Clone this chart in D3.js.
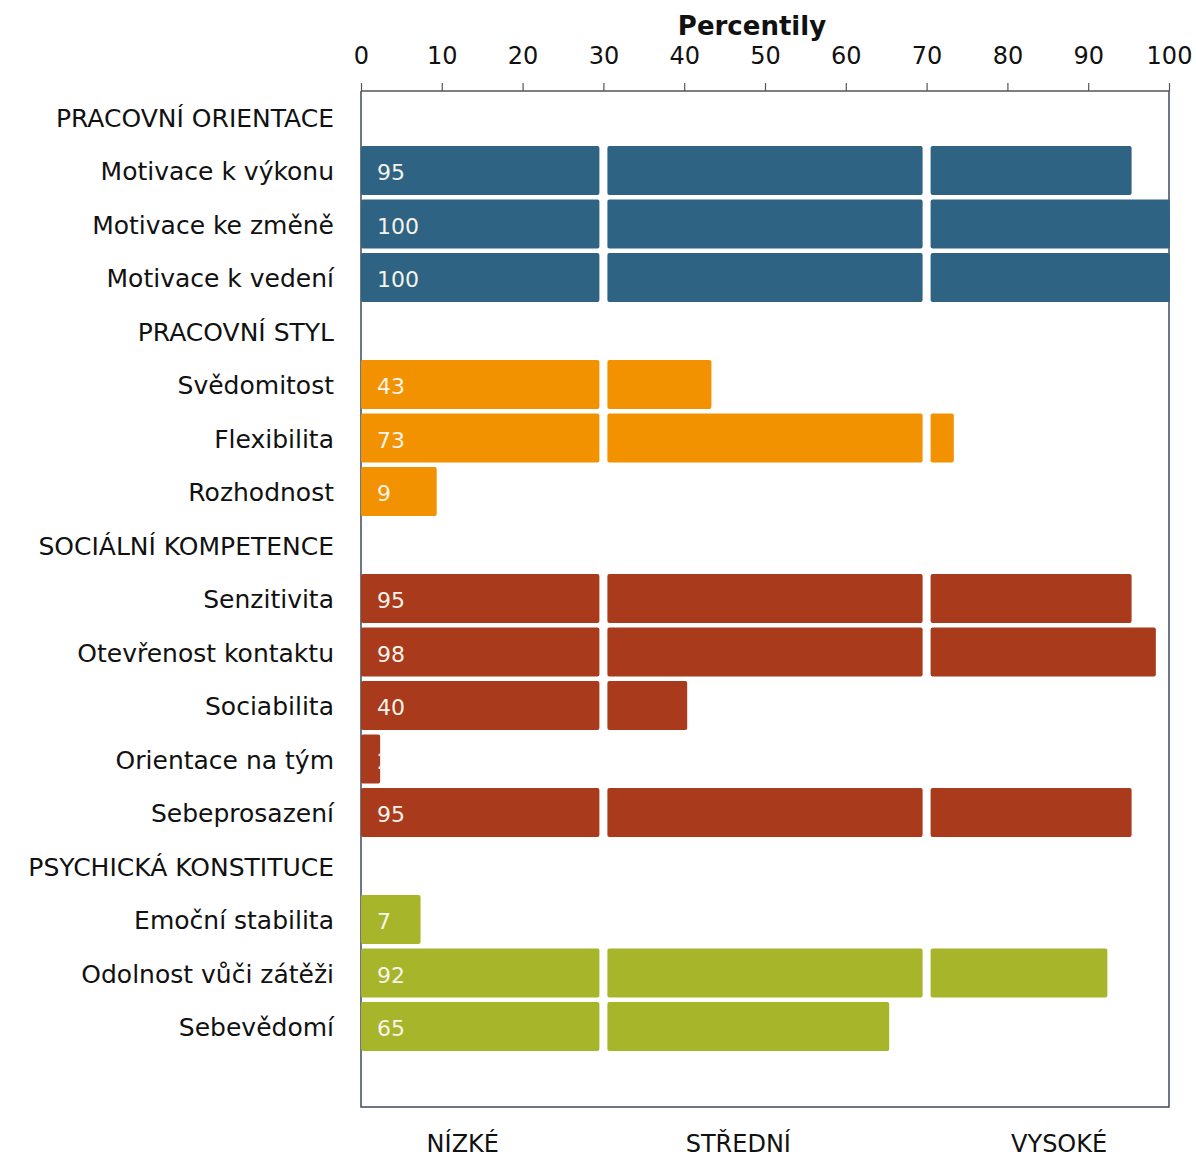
<!DOCTYPE html>
<html><head><meta charset="utf-8">
<script src="https://cdn.jsdelivr.net/npm/d3@7"></script>
<style>
html,body{margin:0;padding:0;background:#fff;}
svg{display:block;}
</style></head>
<body>
<svg id="chart" width="1196" height="1158"></svg>
<script>
// ---- data ----
const rowLabels = [
  "PRACOVNÍ ORIENTACE","Motivace k výkonu","Motivace ke změně","Motivace k vedení",
  "PRACOVNÍ STYL","Svědomitost","Flexibilita","Rozhodnost",
  "SOCIÁLNÍ KOMPETENCE","Senzitivita","Otevřenost kontaktu","Sociabilita","Orientace na tým","Sebeprosazení",
  "PSYCHICKÁ KONSTITUCE","Emoční stabilita","Odolnost vůči zátěži","Sebevědomí"
];
const rowValues = [null,95,100,100, null,43,73,9, null,95,98,40,2,95, null,7,92,65];
const rowGroup  = [0,0,0,0, 1,1,1,1, 2,2,2,2,2,2, 3,3,3,3];
const groupColors = ["#2e6384","#f39200","#a93a1b","#a7b52a"];
const xTicks = [0,10,20,30,40,50,60,70,80,90,100];
const zoneBreaks = [0,30,70,100];
const zoneLabels = ["NÍZKÉ","STŘEDNÍ","VYSOKÉ"];
const zoneLabelPos = [12.6,46.7,86.4];
const axisTitle = "Percentily";

// ---- layout ----
const svg = d3.select("#chart");
const left = 361, right = 1169, axisY = 91, frameBottom = 1107;
const x = d3.scaleLinear().domain([0,100]).range([left,right]);
const y = d3.scaleBand().domain(d3.range(rowLabels.length))
  .range([90.25, 90.25 + 53.5*rowLabels.length]).paddingInner(0.085).paddingOuter(0.0425);

const FONT = "'DejaVu Sans', Verdana, sans-serif";

// title
svg.append("text").attr("x", 752).attr("y", 35).attr("text-anchor","middle")
  .attr("font-family",FONT).attr("font-weight","bold").attr("font-size",26).attr("fill","#111")
  .text(axisTitle);

// top axis
const axis = d3.axisTop(x).tickValues(xTicks).tickSize(8).tickPadding(19).tickFormat(d3.format("d"));
const gAxis = svg.append("g").attr("transform",`translate(0,${axisY})`).call(axis);
gAxis.select(".domain").attr("stroke","#555").attr("stroke-width",1.5).attr("d",`M${left},0H${right}`);
gAxis.selectAll(".tick line").attr("stroke","#555").attr("stroke-width",1.2);
gAxis.selectAll(".tick text").attr("font-family",FONT).attr("font-size",24).attr("fill","#111");

// frame
svg.append("path").attr("d",`M${left},${axisY}V${frameBottom}H${right}V${axisY}`)
  .attr("fill","none").attr("stroke","#3f4a5c").attr("stroke-width",1.5);

// row labels
svg.append("g").selectAll("text").data(rowLabels).join("text")
  .attr("x",334).attr("y",(d,i)=>y(i)+y.bandwidth()/2).attr("dy","0.38em")
  .attr("text-anchor","end").attr("font-family",FONT).attr("font-size",25).attr("fill","#111")
  .text(d=>d);

// bars
const gap = 4, overhang = 3;
const defs = svg.append("defs");
const gBars = svg.append("g");
rowValues.forEach((v,i)=>{
  if (v === null) return;
  const col = groupColors[rowGroup[i]];
  const g = gBars.append("g");
  let firstEnd = null;
  for (let z=0; z<zoneBreaks.length-1; z++){
    const lo = zoneBreaks[z], hi = zoneBreaks[z+1];
    if (v <= lo) break;
    const x0 = x(lo) + (lo>0 ? gap : 0);
    let x1 = v>hi ? x(hi) - gap : Math.min(x(v) + overhang, x(100) + 1);
    if (firstEnd === null) firstEnd = x1;
    g.append("rect").attr("x",x0).attr("y",y(i)).attr("width",Math.max(0,x1-x0))
      .attr("height",y.bandwidth()).attr("rx",2).attr("fill",col);
  }
  const cid = "clip"+i;
  defs.append("clipPath").attr("id",cid).append("rect")
    .attr("x",left).attr("y",y(i)).attr("width",firstEnd-left).attr("height",y.bandwidth());
  g.append("text").attr("clip-path",`url(#${cid})`)
    .attr("x",x(0)+16).attr("y",y(i)+y.bandwidth()/2).attr("dy","0.45em")
    .attr("font-family",FONT).attr("font-size",22).attr("fill","#f6f3ea")
    .text(v);
});

// zone labels
svg.append("g").selectAll("text").data(zoneLabels).join("text")
  .attr("x",(d,i)=>x(zoneLabelPos[i])).attr("y",1152).attr("text-anchor","middle")
  .attr("font-family",FONT).attr("font-size",24).attr("fill","#111").text(d=>d);
</script>
</body></html>
